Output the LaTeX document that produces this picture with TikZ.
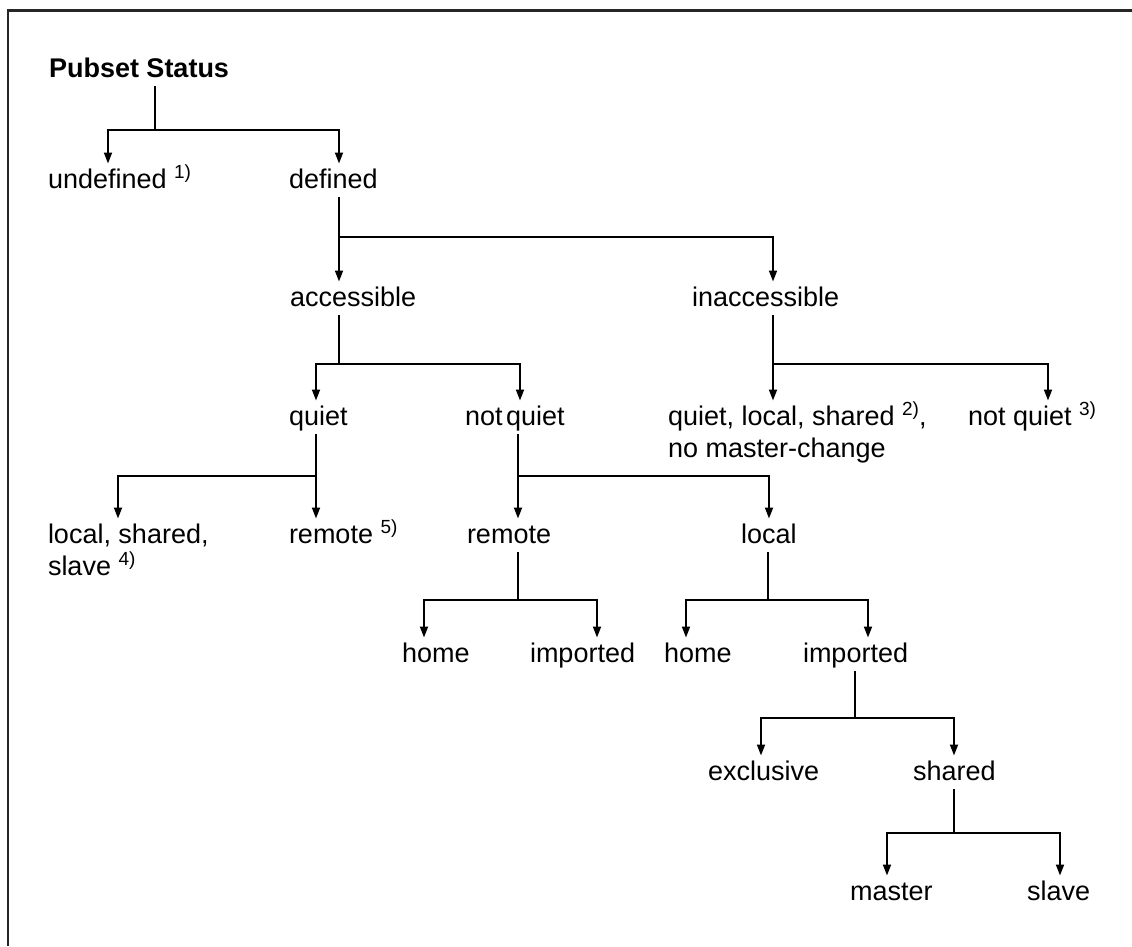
\documentclass[tikz,border=0pt]{standalone}
\usepackage{fontspec}
\setmainfont{Liberation Sans}
\usetikzlibrary{arrows.meta}
% raised footnote marker
\newcommand\fnote[1]{\raisebox{10pt}{\fontsize{19}{19}\selectfont #1}}
\begin{document}
\begin{tikzpicture}[x=1pt,y=-1pt,
  lbl/.style={anchor=base west, inner xsep=0pt, inner ysep=4.5pt, outer sep=0pt,
    text height=20pt, text depth=4.5pt, font=\fontsize{27}{32}\selectfont},
  wire/.style={line width=1.8pt, black},
  arr/.style={wire, -{Triangle[length=11pt,width=8pt]}},
  frame/.style={line width=2.5pt, black!85}]
\useasboundingbox[fill=white] (0,0) rectangle (1132,946);
\draw[frame] (8,946) -- (8,10.5) -- (1132,10.5);

% labels
\node[lbl, font=\fontsize{27}{32}\selectfont\bfseries] (root) at (49,77) {Pubset Status};
\node[lbl] (undef)   at (48,188)   {undefined \fnote{1)}};
\node[lbl] (def)     at (289,188)  {defined};
\node[lbl] (acc)     at (290,306)  {accessible};
\node[lbl] (inacc)   at (692,306)  {inaccessible};
\node[lbl] (quiet)   at (289,425)  {quiet};
\node[lbl] (nquiet)  at (465,425)  {not\kern3.5pt quiet};
\node[lbl] (iquiet)  at (668,425)  {quiet, local, shared \fnote{2)},};
\node[lbl] (iquietb) at (668,457)  {no master-change};
\node[lbl] (inquiet) at (968,425)  {not quiet \fnote{3)}};
\node[lbl] (qlocal)  at (48,543)   {local, shared,};
\node[lbl] (qlocalb) at (48,575)   {slave \fnote{4)}};
\node[lbl] (qremote) at (289,543)  {remote \fnote{5)}};
\node[lbl] (nremote) at (467,543)  {remote};
\node[lbl] (nlocal)  at (741,543)  {local};
\node[lbl] (rhome)   at (402,662)  {home};
\node[lbl] (rimp)    at (530,662)  {imported};
\node[lbl] (lhome)   at (664,662)  {home};
\node[lbl] (limp)    at (803,662)  {imported};
\node[lbl] (excl)    at (708,780)  {exclusive};
\node[lbl] (shrd)    at (913,780)  {shared};
\node[lbl] (master)  at (850,900)  {master};
\node[lbl] (slave)   at (1027,900) {slave};

% branch points
\coordinate (root-j)    at (155,130);
\coordinate (def-j)     at (339,237);
\coordinate (acc-j)     at (339,364);
\coordinate (inacc-j)   at (773,364);
\coordinate (quiet-j)   at (316,476);
\coordinate (nquiet-j)  at (518,476);
\coordinate (nremote-j) at (518,600);
\coordinate (nlocal-j)  at (768,600);
\coordinate (limp-j)    at (855,718);
\coordinate (shrd-j)    at (954,833);

% stems
\draw[wire] (root.south -| root-j) -- (root-j);
\draw[wire] (def.south -| def-j) -- (def-j);
\draw[wire] (acc.south -| acc-j) -- (acc-j);
\draw[wire] (inacc.south -| inacc-j) -- (inacc-j);
\draw[wire] (quiet.south -| quiet-j) -- (quiet-j);
\draw[wire] (nquiet.south -| nquiet-j) -- (nquiet-j);
\draw[wire] (nremote.south -| nremote-j) -- (nremote-j);
\draw[wire] (nlocal.south -| nlocal-j) -- (nlocal-j);
\draw[wire] (limp.south -| limp-j) -- (limp-j);
\draw[wire] (shrd.south -| shrd-j) -- (shrd-j);

% branches
\draw[arr] (root-j) -| (undef.north -| 108,0);
\draw[arr] (root-j) -| (def.north -| 339,0);
\draw[arr] (def-j) -| (acc.north -| 339,0);
\draw[arr] (def-j) -| (inacc.north -| 773,0);
\draw[arr] (acc-j) -| (quiet.north -| 316,0);
\draw[arr] (acc-j) -| (nquiet.north -| 520,0);
\draw[arr] (inacc-j) -| (iquiet.north -| 773,0);
\draw[arr] (inacc-j) -| (inquiet.north -| 1048,0);
\draw[arr] (quiet-j) -| (qlocal.north -| 118,0);
\draw[arr] (quiet-j) -| (qremote.north -| 316,0);
\draw[arr] (nquiet-j) -| (nremote.north -| 518,0);
\draw[arr] (nquiet-j) -| (nlocal.north -| 769,0);
\draw[arr] (nremote-j) -| (rhome.north -| 424,0);
\draw[arr] (nremote-j) -| (rimp.north -| 597,0);
\draw[arr] (nlocal-j) -| (lhome.north -| 686,0);
\draw[arr] (nlocal-j) -| (limp.north -| 868,0);
\draw[arr] (limp-j) -| (excl.north -| 761,0);
\draw[arr] (limp-j) -| (shrd.north -| 954,0);
\draw[arr] (shrd-j) -| (master.north -| 887,0);
\draw[arr] (shrd-j) -| (slave.north -| 1060,0);
\end{tikzpicture}
\end{document}
